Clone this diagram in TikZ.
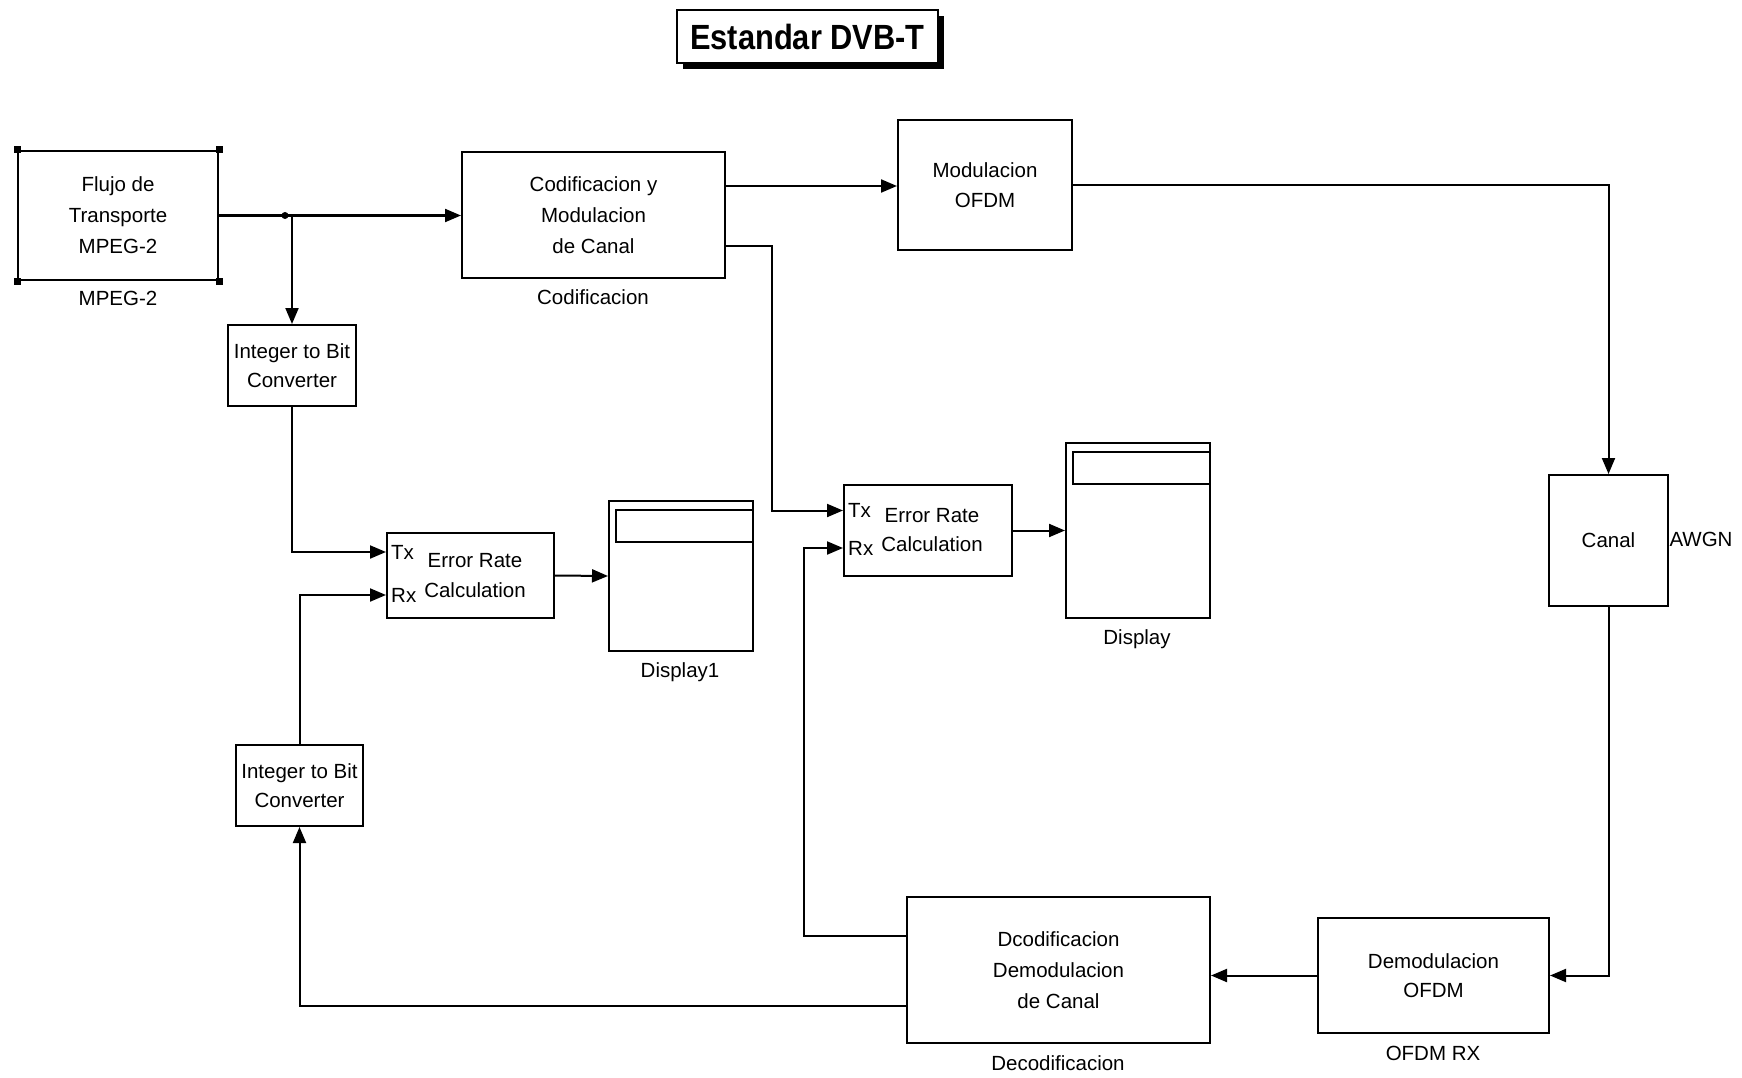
\documentclass[tikz,border=0pt]{standalone}
\usepackage{fontspec}
\setmainfont{Liberation Sans}
\usetikzlibrary{arrows.meta}
\begin{document}
\begin{tikzpicture}[x=1pt,y=-1pt,
  every node/.style={font=\fontsize{20.5}{31}\selectfont},
  block/.style={draw,line width=2pt,inner sep=0pt,align=center,fill=white},
  twoline/.style={font=\fontsize{20.5}{28.5}\selectfont},
  wire/.style={line width=2pt},
  arr/.style={wire,-{Triangle[length=16pt,width=13pt]}},
  lbl/.style={inner sep=0pt},
]
\useasboundingbox (0,0) rectangle (1742,1078);

% title with drop shadow
\node[fill=black,inner sep=0pt,minimum width=261pt,minimum height=53pt] (titleshadow) at (813,42.5) {};
\node[block,minimum width=261pt,minimum height=53pt,font=\fontsize{35}{40}\bfseries] (title) at (807.5,36.5) {\scalebox{0.88}[1]{Estandar DVB-T}};

% blocks
\node[block,minimum width=200pt,minimum height=129pt] (mpeg) at (118,215.5) {Flujo de\\Transporte\\MPEG-2};
\foreach \c in {north west,north east,south west,south east}
  \fill (mpeg.\c) ++(-3.5,-3.5) rectangle ++(7,7);
\node[lbl] (mpeglbl) at (118,298) {MPEG-2};

\node[block,twoline,minimum width=128pt,minimum height=81pt] (int1) at (292,365.5) {Integer to Bit\\Converter};
\node[block,twoline,minimum width=127pt,minimum height=81pt] (int2) at (299.5,785.5) {Integer to Bit\\Converter};

\node[block,minimum width=263pt,minimum height=126pt] (cod) at (593.5,215) {Codificacion y\\Modulacion\\de Canal};
\node[lbl] (codlbl) at (593,297) {Codificacion};

\node[block,font=\fontsize{20.5}{30}\selectfont,minimum width=174pt,minimum height=130pt] (mod) at (985,185) {Modulacion\\OFDM};

\node[block,minimum width=119pt,minimum height=131pt] (canal) at (1608.5,540.5) {Canal};
\node[lbl] (awgn) at (1701,539) {AWGN};

\node[block,twoline,minimum width=231pt,minimum height=115pt] (demod) at (1433.5,975.5) {Demodulacion\\OFDM};
\node[lbl] (demodlbl) at (1433,1053) {OFDM RX};

\node[block,minimum width=303pt,minimum height=146pt] (decod) at (1058.5,970) {Dcodificacion\\Demodulacion\\de Canal};
\node[lbl] (decodlbl) at (1058,1063) {Decodificacion};

\node[block,font=\fontsize{20.5}{30}\selectfont,minimum width=167pt,minimum height=85pt] (er1) at (470.5,575.5) {\hspace*{9pt}Error Rate\\\hspace*{9pt}Calculation};
\node[block,font=\fontsize{20.5}{29}\selectfont,minimum width=168pt,minimum height=91pt] (er2) at (928,530.5) {\hspace*{8pt}Error Rate\\\hspace*{8pt}Calculation};

% display blocks with their readout bar
\node[block,minimum width=144pt,minimum height=150pt] (disp1) at (681,576) {};
\draw[wire] ([yshift=-10pt]disp1.north east) -- ([xshift=8pt,yshift=-10pt]disp1.north west)
  -- ([xshift=8pt,yshift=-42pt]disp1.north west) -- ([yshift=-42pt]disp1.north east);
\node[lbl] (disp1lbl) at (680,672) {Display1};

\node[block,minimum width=144pt,minimum height=175pt] (disp2) at (1138,530.5) {};
\draw[wire] ([yshift=-10pt]disp2.north east) -- ([xshift=8pt,yshift=-10pt]disp2.north west)
  -- ([xshift=8pt,yshift=-42pt]disp2.north west) -- ([yshift=-42pt]disp2.north east);
\node[lbl] (disp2lbl) at (1137,639) {Display};

% ports
\coordinate (er1tx) at ([yshift=23.5pt]er1.west);
\coordinate (er1rx) at ([yshift=-19.5pt]er1.west);
\coordinate (er2tx) at ([yshift=20pt]er2.west);
\coordinate (er2rx) at ([yshift=-17.5pt]er2.west);
\node[lbl,anchor=west] (er1txl) at ([xshift=5pt]er1tx) {Tx};
\node[lbl,anchor=west] (er1rxl) at ([xshift=5pt]er1rx) {Rx};
\node[lbl,anchor=west] (er2txl) at ([xshift=5pt]er2tx) {Tx};
\node[lbl,anchor=west] (er2rxl) at ([xshift=5pt]er2rx) {Rx};
\coordinate (codout1) at ([yshift=29pt]cod.east);
\coordinate (codout2) at ([yshift=-31pt]cod.east);
\coordinate (decout1) at ([yshift=34pt]decod.west);
\coordinate (decout2) at ([yshift=-36pt]decod.west);
\coordinate (bend1) at (772,0);
\coordinate (bend2) at (804,0);
\coordinate (split) at (285,215.5);

% connectors
\draw[arr] (mpeg.east) -- (mpeg.east -| cod.west);
\fill (split) circle (3.5pt);
\draw[arr] (int1.north |- mpeg.east) -- (int1.north);
\draw[arr] (int1.south) |- (er1tx);
\draw[arr] (int2.north) |- (er1rx);
\draw[arr] (er1.east) -- (disp1.west);
\draw[arr] (codout1) -- (codout1 -| mod.west);
\draw[arr] (codout2) -| (bend1 |- er2tx) -- (er2tx);
\draw[arr] (mod.east) -| (canal.north);
\draw[arr] (canal.south) |- (demod.east);
\draw[arr] (demod.west) -- (demod.west -| decod.east);
\draw[arr] (decout1) -| (bend2 |- er2rx) -- (er2rx);
\draw[arr] (decout2) -| (int2.south);
\draw[arr] (er2.east) -- (disp2.west);
\end{tikzpicture}
\end{document}
